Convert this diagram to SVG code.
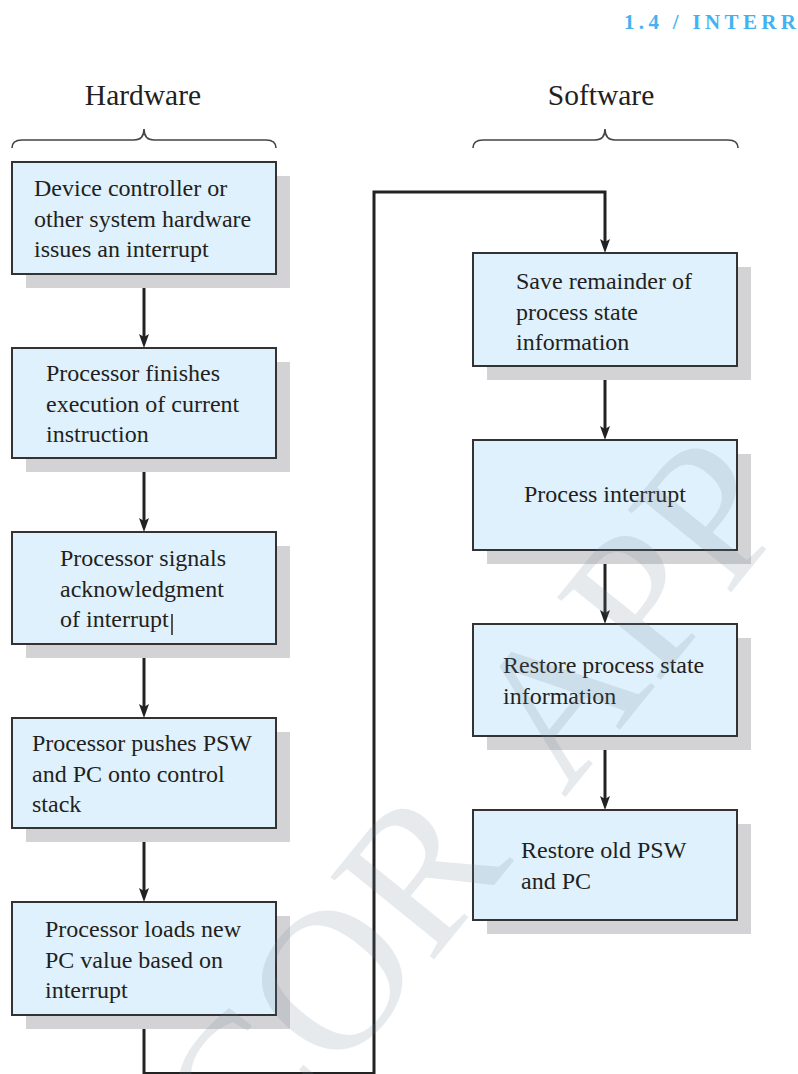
<svg xmlns="http://www.w3.org/2000/svg" width="798" height="1074" viewBox="0 0 798 1074">
<defs>
<style>
.box{fill:#dff1fc;stroke:#333;stroke-width:2}
.shadow{fill:#d3d3d5}
.t{font-family:"Liberation Serif","Times New Roman",serif;font-size:24px;fill:#231f20}
.h{font-family:"Liberation Serif","Times New Roman",serif;font-size:29.5px;fill:#231f20;text-anchor:middle}
.brace{fill:none;stroke:#444;stroke-width:1.6}
.conn{fill:none;stroke:#222;stroke-width:3}
.wm{font-family:"Liberation Serif","Times New Roman",serif;font-size:202px;fill:#6f8597;fill-opacity:0.17;word-spacing:40px}
</style>
<marker id="arr" markerUnits="userSpaceOnUse" markerWidth="16" markerHeight="12" refX="8" refY="5" orient="auto">
<path d="M0,0 L14,5 L0,10 L3,5 z" fill="#222"/>
</marker>
</defs>
<rect width="798" height="1074" fill="#fff"/>
<text x="624" y="29" font-family="Liberation Serif, serif" font-size="21" font-weight="bold" textLength="172" lengthAdjust="spacing" fill="#45b2f0">1.4 / INTERR</text>
<g id="hardware-label">
<text class="h" x="143" y="105">Hardware</text>
<path class="brace" d="M12,148 Q12,140 22,140 L134,140 Q144,140 144,129 Q144,140 154,140 L266,140 Q276,140 276,148"/>
</g>
<g id="software-label">
<text class="h" x="601" y="105">Software</text>
<path class="brace" d="M473,148 Q473,140 483,140 L595,140 Q605,140 605,129 Q605,140 615,140 L728,140 Q738,140 738,148"/>
</g>
<g id="connectors">
<path class="conn" d="M144,274 V342" marker-end="url(#arr)"/>
<path class="conn" d="M144,458 V526" marker-end="url(#arr)"/>
<path class="conn" d="M144,644 V712" marker-end="url(#arr)"/>
<path class="conn" d="M144,828 V896" marker-end="url(#arr)"/>
<path class="conn" d="M605,366 V434" marker-end="url(#arr)"/>
<path class="conn" d="M605,550 V618" marker-end="url(#arr)"/>
<path class="conn" d="M605,736 V804" marker-end="url(#arr)"/>
<path class="conn" d="M144,1015 V1073.5 H374 V192 H605 V247" marker-end="url(#arr)"/>
</g>
<g id="n1">
<rect class="shadow" x="26" y="176" width="264" height="112"/>
<rect class="box" x="12" y="162" width="264" height="112"/>
<text class="t" x="34" y="196">Device controller or</text>
<text class="t" x="34" y="227">other system hardware</text>
<text class="t" x="34" y="257">issues an interrupt</text>
</g>
<g id="n2">
<rect class="shadow" x="26" y="362" width="264" height="110"/>
<rect class="box" x="12" y="348" width="264" height="110"/>
<text class="t" x="46" y="381">Processor finishes</text>
<text class="t" x="46" y="412">execution of current</text>
<text class="t" x="46" y="442">instruction</text>
</g>
<g id="n3">
<rect class="shadow" x="26" y="546" width="264" height="112"/>
<rect class="box" x="12" y="532" width="264" height="112"/>
<text class="t" x="60" y="566">Processor signals</text>
<text class="t" x="60" y="597">acknowledgment</text>
<text class="t" x="60" y="627">of interrupt</text>
<line x1="172" y1="614" x2="172" y2="635" stroke="#231f20" stroke-width="1.5"/>
</g>
<g id="n4">
<rect class="shadow" x="26" y="732" width="264" height="110"/>
<rect class="box" x="12" y="718" width="264" height="110"/>
<text class="t" x="32" y="751">Processor pushes PSW</text>
<text class="t" x="32" y="782">and PC onto control</text>
<text class="t" x="32" y="812">stack</text>
</g>
<g id="n5">
<rect class="shadow" x="26" y="916" width="264" height="113"/>
<rect class="box" x="12" y="902" width="264" height="113"/>
<text class="t" x="45" y="937">Processor loads new</text>
<text class="t" x="45" y="968">PC value based on</text>
<text class="t" x="45" y="998">interrupt</text>
</g>
<g id="n6">
<rect class="shadow" x="487" y="267" width="264" height="113"/>
<rect class="box" x="473" y="253" width="264" height="113"/>
<text class="t" x="516" y="289">Save remainder of</text>
<text class="t" x="516" y="320">process state</text>
<text class="t" x="516" y="350">information</text>
</g>
<g id="n7">
<rect class="shadow" x="487" y="454" width="264" height="110"/>
<rect class="box" x="473" y="440" width="264" height="110"/>
<text class="t" x="605" y="502" text-anchor="middle">Process interrupt</text>
</g>
<g id="n8">
<rect class="shadow" x="487" y="638" width="264" height="112"/>
<rect class="box" x="473" y="624" width="264" height="112"/>
<text class="t" x="503" y="673">Restore process state</text>
<text class="t" x="503" y="704">information</text>
</g>
<g id="n9">
<rect class="shadow" x="487" y="824" width="264" height="110"/>
<rect class="box" x="473" y="810" width="264" height="110"/>
<text class="t" x="521" y="858">Restore old PSW</text>
<text class="t" x="521" y="889">and PC</text>
</g>
<g id="watermark">
<text class="wm" transform="translate(253,1183) rotate(-51)">COR APP</text>
</g>
</svg>
